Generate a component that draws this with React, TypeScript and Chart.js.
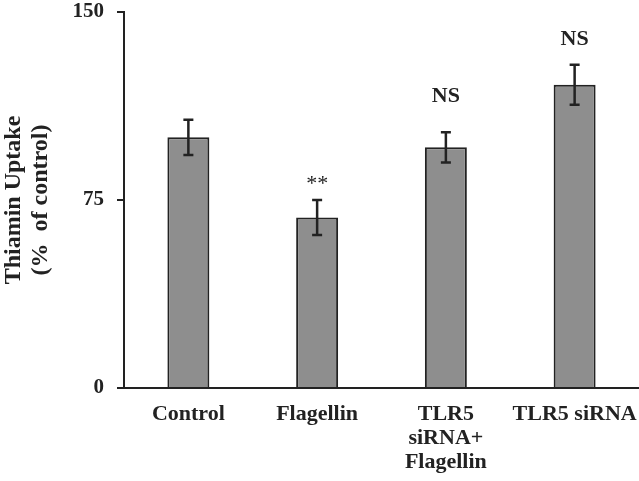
import React, { useEffect, useRef } from "react";
import { Chart, registerables } from "chart.js";

Chart.register(...registerables);

const categories: (string | string[])[] = ["Control", "Flagellin", ["TLR5", "siRNA+", "Flagellin"], "TLR5 siRNA"];
const uptake = [100, 68, 96, 121];
const errors = [7, 7, 6, 8];
const marks = ["", "**", "NS", "NS"];
const markLevels = [0, 79, 114, 137];
const yTicks = [0, 75, 150];

const INK = "#222222";
const SERIF = "'Liberation Serif', 'Times New Roman', serif";

const overlay = {
  id: "overlay",
  afterDatasetsDraw(chart: any) {
    const { ctx, scales } = chart;
    const y = scales.y;
    const meta = chart.getDatasetMeta(0);
    ctx.save();
    meta.data.forEach((bar: any, i: number) => {
      const x = bar.x;
      const top = y.getPixelForValue(uptake[i] + errors[i]);
      const bot = y.getPixelForValue(uptake[i] - errors[i]);
      ctx.strokeStyle = INK;
      ctx.lineWidth = 2.5;
      ctx.beginPath();
      ctx.moveTo(x, top);
      ctx.lineTo(x, bot);
      ctx.moveTo(x - 5, top);
      ctx.lineTo(x + 5, top);
      ctx.moveTo(x - 5, bot);
      ctx.lineTo(x + 5, bot);
      ctx.stroke();
      if (marks[i]) {
        const isStar = marks[i].includes("*");
        ctx.fillStyle = INK;
        ctx.font = `${isStar ? "normal" : "bold"} 22px ${SERIF}`;
        ctx.textAlign = "center";
        ctx.textBaseline = "alphabetic";
        ctx.fillText(marks[i], x, y.getPixelForValue(markLevels[i]));
      }
    });
    ctx.restore();
  },
};

export default function App() {
  const ref = useRef<HTMLCanvasElement | null>(null);
  useEffect(() => {
    if (!ref.current) return;
    const chart = new Chart(ref.current, {
      type: "bar",
      data: {
        labels: categories as any,
        datasets: [
          {
            data: uptake,
            backgroundColor: "#8e8e8e",
            borderColor: INK,
            borderWidth: 2,
            barPercentage: 0.326,
            categoryPercentage: 1,
          },
        ],
      },
      plugins: [overlay],
      options: {
        animation: false,
        responsive: false,
        maintainAspectRatio: false,
        layout: { padding: { top: 0, right: 0, bottom: 0, left: 0 } },
        plugins: { legend: { display: false }, tooltip: { enabled: false }, title: { display: false } },
        scales: {
          x: {
            grid: { display: false, drawTicks: false },
            border: { display: true, color: INK, width: 2 },
            ticks: {
              color: INK,
              padding: 14,
              maxRotation: 0,
              autoSkip: false,
              font: { family: SERIF, size: 22, weight: "bold", lineHeight: 1.1 },
            },
            afterFit(scale: any) {
              scale.height = 93;
              scale.paddingLeft = 0;
              scale.paddingRight = 0;
            },
          },
          y: {
            min: 0,
            max: 150,
            afterBuildTicks(scale: any) {
              scale.ticks = yTicks.map((v) => ({ value: v }));
            },
            grid: { drawOnChartArea: false, drawTicks: true, tickLength: 7, color: INK, lineWidth: 2 },
            border: { display: true, color: INK, width: 2 },
            ticks: {
              color: INK,
              padding: 13,
              font: { family: SERIF, size: 21, weight: "bold" },
            },
            title: {
              display: true,
              text: ["Thiamin Uptake", "(%  of control)"],
              color: INK,
              padding: 0,
              font: { family: SERIF, size: 24, weight: "bold", lineHeight: 1.125 },
            },
            afterFit(scale: any) {
              scale.width = 124;
              scale.paddingTop = 12;
              scale.paddingBottom = 0;
            },
          },
        },
      } as any,
    });
    return () => chart.destroy();
  }, []);
  return (
    <div style={{ position: "fixed", left: 0, top: 0, width: 639, height: 481, background: "#fff" }}>
      <canvas ref={ref} width={639} height={481} style={{ display: "block" }} />
    </div>
  );
}
